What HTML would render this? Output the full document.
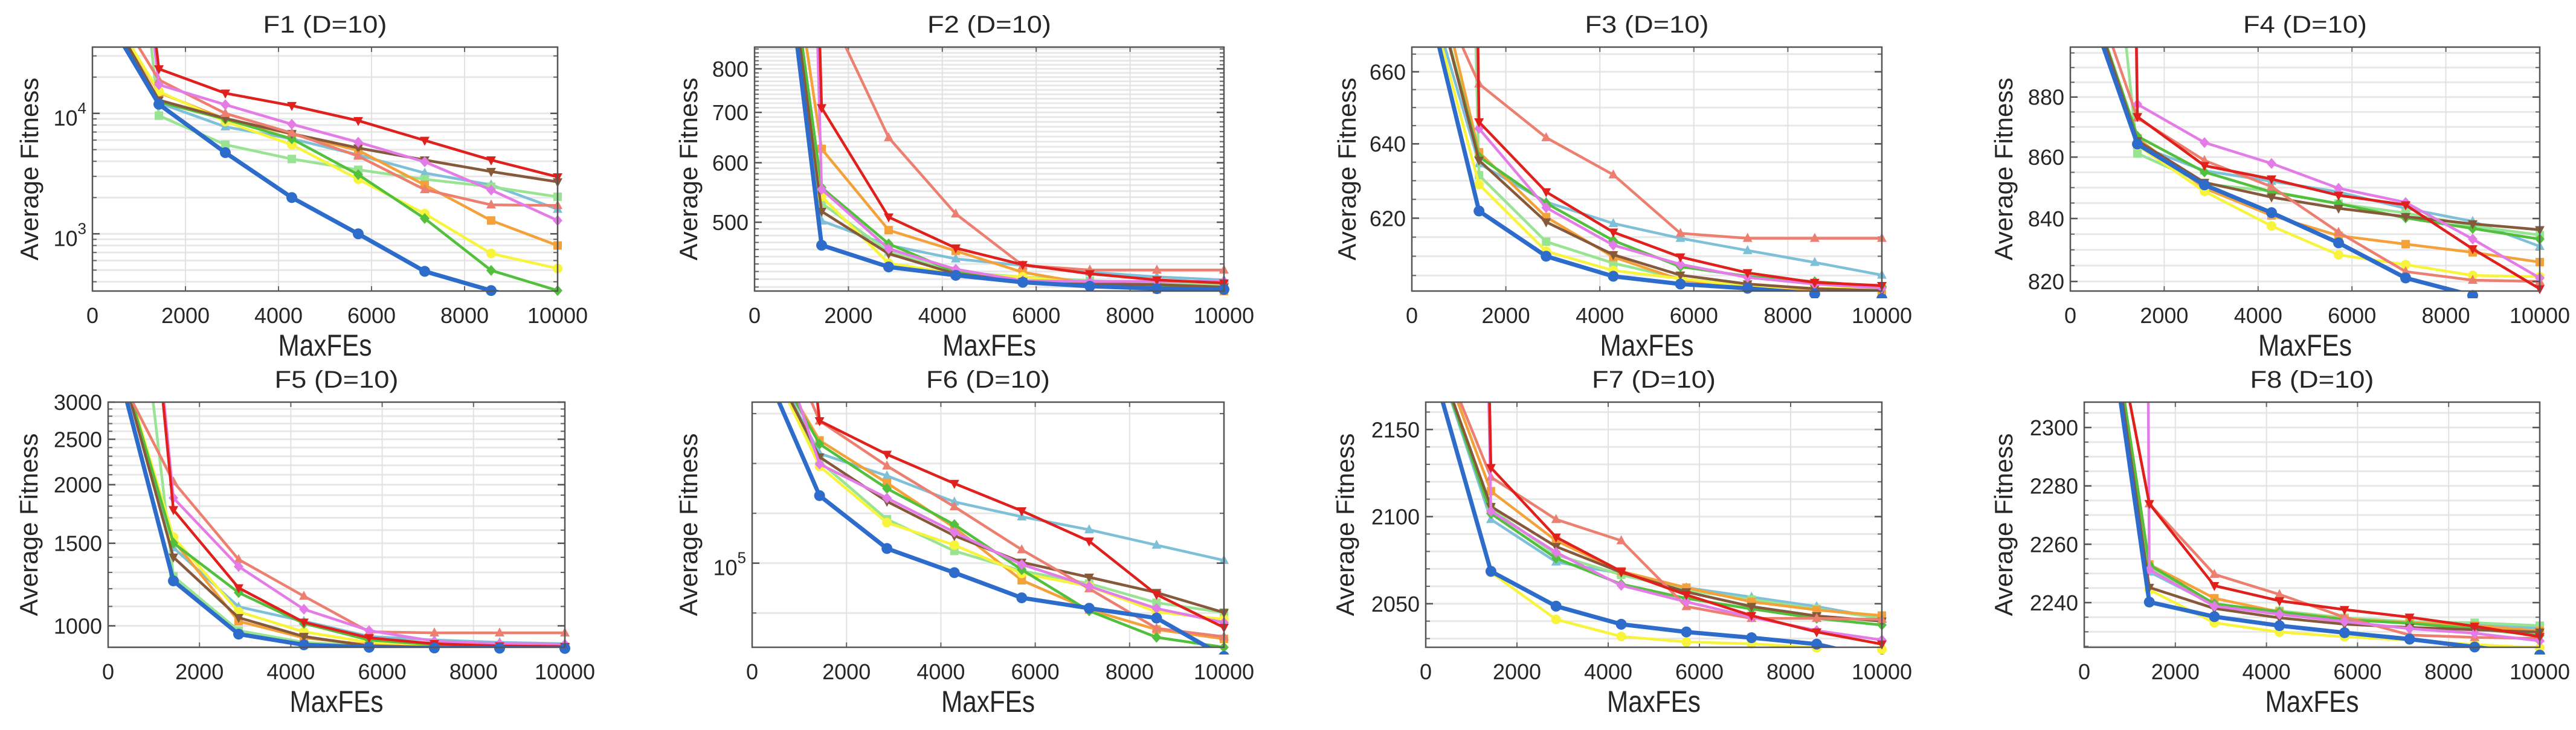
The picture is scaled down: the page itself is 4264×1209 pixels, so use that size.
<!DOCTYPE html>
<html><head><meta charset="utf-8"><title>Convergence curves F1-F8</title>
<style>html,body{margin:0;padding:0;background:#fff}svg{display:block}text{font-family:"Liberation Sans",Arial,sans-serif;fill:#262626}</style>
</head><body>
<svg id="chart" xmlns="http://www.w3.org/2000/svg" width="4264" height="1209" viewBox="0 0 4264 1209"></svg>
<script>
const xValues=[0,1429,2857,4286,5714,7143,8571,10000];
const xTicks=[0,2000,4000,6000,8000,10000];
const seriesNames=['lightblue','lightgreen','orange','yellow','green','brown','salmon','violet','red','blue'];
const seriesColors=['#7ec0d8','#98e492','#f4a13a','#f8f43c','#52c03c','#86593a','#ec7f70','#e47ce8','#e0201c','#2e6ccb'];
const seriesMarkers=['up','square','square','circle','diamond','down','up','diamond','down','circle'];
const panelTitles=['F1  (D=10)','F2  (D=10)','F3  (D=10)','F4  (D=10)','F5  (D=10)','F6  (D=10)','F7  (D=10)','F8  (D=10)'];
const f1Values=[[1.2e5,12200,7740,6150,4520,3200,2550,1600],[1e9,9570,5500,4180,3400,2840,2460,2030],[1.2e5,14900,8960,6730,4930,2550,1290,800],[1.2e5,15200,8570,5500,2840,1470,687,516],[1.2e5,12460,8960,6150,3100,1340,497,338],[1.2e5,12900,9080,6780,5160,4100,3290,2700],[1.5e5,18960,10000,6870,4420,2330,1740,1720],[1e9,17300,11800,8130,5760,3960,2310,1290],[1e9,23400,14700,11600,8700,5970,4100,2970],[1e5,11900,4720,2000,1000,488,338,250]];
const f2Values=[[2500,502,466,447,438,429,423,419],[2500,530,457,429,423,418,414,413],[2500,626,488,458,429,414,407,405],[2500,541,441,427,423,414,408,407],[2500,556,468,429,416,412,411,410],[2500,517,454,427,417,414,413,410],[3000,1000,648,513,438,432,432,432],[1e6,553,461,433,418,417,417,417],[1e6,710,508,462,439,427,419,415],[2500,466,436,425,416,411,408,407]];
const f3Values=[[700,634.6,624.3,618.6,614.7,611.5,608.4,605.1],[2000,631.5,613.8,608.2,604.2,602.3,601.5,601.2],[720,637.7,620.3,609.8,603.9,601.8,601.2,600.8],[700,629,611.3,606.3,604.2,602.2,601.7,602],[710,636.5,624,614.1,607.3,604.8,603.4,602.2],[710,635.5,619,610.4,605.1,602.8,601.6,601.1],[700,656.6,641.7,631.6,616,614.7,614.7,614.7],[5000,644.2,622.8,612.9,607.9,604.5,602.8,601.8],[5000,646,627,616.3,609.8,605.7,603.2,602.4],[700,621.9,610,604.8,602.8,601.7,600.3,599]];
const f4Values=[[930,863.9,855.5,852.1,848.6,843.3,839.1,831.1],[1100,861.2,851.3,848.8,844.8,841.8,837.6,834.7],[930,866.2,849.8,841,834.5,831.8,829.2,826.1],[930,863.9,848.8,837.6,828.4,825.3,821.9,821.5],[935,866.9,855.1,848.6,844.8,840.2,836.8,833.4],[935,865.4,851.7,846.9,843.3,840.6,838.3,836.4],[940,873,858.9,850.3,835.6,823.1,820.4,820],[5000,877.6,864.8,857.9,849.8,845.2,833.4,821.1],[5000,873.4,857.2,852.8,847.5,844.4,830.3,817.7],[930,864.3,850.9,841.9,832.2,821.1,815.6,810]];
const f5Values=[[4500,1468,1098,1023,949,933,922,916],[20000,1276,977,922,906,900,900,900],[4500,1520,1023,943,911,903,902,902],[4500,1546,1072,971,922,911,906,904],[4500,1502,1177,1012,933,911,906,903],[4500,1401,1041,949,906,900,900,900],[3800,2030,1385,1157,971,966,966,966],[50000,1874,1338,1085,977,927,916,913],[50000,1768,1205,1018,943,916,906,903],[4300,1247,960,911,900,897,896,895]];
const f6Values=[[3e5,166000,149700,132700,123900,116700,108700,101300],[3e5,159900,122500,105800,96500,91000,83300,79600],[3e5,176300,144900,117900,92400,80700,73600,70500],[3e5,156400,120600,108700,95400,89900,79800,77200],[3e5,173400,141200,119500,97000,80200,71000,67800],[3e5,163300,133000,113500,100400,93700,87300,79600],[4e5,193000,156700,129800,106400,88900,74000,71200],[4e5,158100,135100,115400,99400,89900,81100,76000],[3e6,193000,165300,144500,127300,110700,86500,74300],[2.8e5,136600,107000,95700,85200,81200,77600,65000]];
const f7Values=[[2210,2098.4,2074,2067.3,2059.2,2053.8,2048.4,2041.6],[2210,2104.5,2078.1,2066.6,2057.8,2052.4,2047,2041.6],[2215,2114.6,2086.2,2068.6,2059.2,2051.1,2046.4,2043.2],[2200,2068,2041,2031.2,2028.1,2027,2024.7,2023.8],[2210,2101.8,2076.1,2061.2,2053.1,2047,2041.6,2037.8],[2210,2105.8,2082.8,2068,2056.8,2048.4,2043,2040],[2215,2122.7,2098.4,2086.2,2048.4,2041.6,2041.6,2041],[4000,2103.1,2079.5,2060.5,2051.1,2042.3,2034.6,2029.2],[4000,2128.1,2088.2,2068.6,2055.1,2043.2,2033.8,2026.8],[2200,2068.6,2048.6,2038.2,2033.8,2030.5,2026.8,2018]];
const f8Values=[[2400,2250.5,2239.2,2237.2,2234.4,2233.1,2232.6,2231.3],[2400,2252.1,2239.2,2237.2,2234.8,2233.5,2233.1,2232.1],[2400,2253.1,2241.5,2236.8,2234.4,2233.1,2232.1,2230.3],[2400,2244.4,2233.1,2229.9,2228.3,2227.1,2225.6,2224.5],[2400,2252.9,2239.6,2236.8,2234.2,2232.9,2231.1,2228.7],[2400,2245.2,2238,2234.8,2232.6,2231.5,2230.7,2229.9],[2390,2273.9,2249.7,2242.8,2235,2228.9,2228.1,2227.7],[6000,2251.3,2238.8,2236,2233.5,2231.1,2229.5,2226.9],[2390,2273.9,2245.8,2240.6,2237.6,2235,2231.9,2228.3],[2396,2240.2,2235.2,2232.1,2229.7,2227.5,2224.8,2222]];
const f1Ticks=[1000,10000];const f2Ticks=[500,600,700,800];const f3Ticks=[620,640,660];const f4Ticks=[820,840,860,880];
const f5Ticks=[1000,1500,2000,2500,3000];const f6Ticks=[100000];const f7Ticks=[2050,2100,2150];const f8Ticks=[2240,2260,2280,2300];
const yRangesMin=[335,405,601,817,900,67800,2025,2224.7];
const yRangesMax=[35500,855,667,897,3000,210400,2165.7,2308.7];

const layout=[
 {left:153,top:78,w:770,h:404,log:true,labOff:105,exp:true,minor:'dec'},
 {left:1249,top:78,w:777,h:404,log:true,labOff:110,minor:10},
 {left:2337,top:78,w:778,h:404,log:true,labOff:108,minor:5},
 {left:3427,top:78,w:777,h:404,log:true,labOff:111,minor:5},
 {left:179,top:666,w:756,h:406,log:true,labOff:132,minor:100},
 {left:1245,top:666,w:781,h:406,log:true,labOff:106,exp:true,minor:'tenth'},
 {left:2360,top:666,w:755,h:406,log:false,labOff:134,minor:10},
 {left:3450,top:666,w:754,h:406,log:false,labOff:134,minor:5}];
const allValues=[f1Values,f2Values,f3Values,f4Values,f5Values,f6Values,f7Values,f8Values];
const allTicks=[f1Ticks,f2Ticks,f3Ticks,f4Ticks,f5Ticks,f6Ticks,f7Ticks,f8Ticks];

const NS='http://www.w3.org/2000/svg';
const svg=document.getElementById('chart');
function mk(tag,attrs,parent){const e=document.createElementNS(NS,tag);for(const k in attrs)e.setAttribute(k,attrs[k]);(parent||svg).appendChild(e);return e;}
const defs=mk('defs',{});

layout.forEach((L,pi)=>{
 const ymin=yRangesMin[pi],ymax=yRangesMax[pi];
 const xs=v=>L.left+v/10000*L.w;
 const ys=v=>L.log?L.top+(Math.log(ymax)-Math.log(v))/(Math.log(ymax)-Math.log(ymin))*L.h:L.top+(ymax-v)/(ymax-ymin)*L.h;
 const g=mk('g',{});
 
 
 // minor/major horizontal grid
 const gv=[];
 if(L.minor==='dec'){for(let d=2;d<=4;d++)for(let m=1;m<10;m++){const v=m*Math.pow(10,d);if(v>ymin&&v<ymax)gv.push(v);}}
 else if(L.minor==='tenth'){for(let k=-2;k<=4;k++){const v=Math.pow(10,5+k*0.1);if(v>ymin&&v<ymax)gv.push(v);}}
 else{for(let v=Math.ceil(ymin/L.minor)*L.minor;v<ymax;v+=L.minor)gv.push(v);}
 const grid=mk('g',{},g);
 
 
 gv.forEach(v=>{const y=ys(v);mk('line',{x1:L.left,x2:L.left+L.w,y1:y,y2:y,stroke:'#e8e8e8','stroke-width':3},grid);
   mk('line',{x1:L.left,x2:L.left+7,y1:y,y2:y,stroke:'#666','stroke-width':2},grid);
   mk('line',{x1:L.left+L.w-7,x2:L.left+L.w,y1:y,y2:y,stroke:'#666','stroke-width':2},grid);});
 xTicks.forEach(t=>{if(t>0&&t<10000){const x=xs(t);mk('line',{x1:x,x2:x,y1:L.top,y2:L.top+L.h,stroke:'#e2e2e2','stroke-width':2},grid);
   mk('line',{x1:x,x2:x,y1:L.top,y2:L.top+8,stroke:'#666','stroke-width':2},grid);
   mk('line',{x1:x,x2:x,y1:L.top+L.h-8,y2:L.top+L.h,stroke:'#666','stroke-width':2},grid);}});
 // clip
 const cp=mk('clipPath',{id:'clip'+pi},defs);
 mk('rect',{x:L.left,y:L.top,width:L.w,height:L.h},cp);
 const cpm=mk('clipPath',{id:'clipm'+pi},defs);
 mk('rect',{x:L.left-12,y:L.top,width:L.w+24,height:L.h+12},cpm);
 const vals=allValues[pi];
 seriesNames.forEach((nm,si)=>{
  const col=seriesColors[si];const sw=nm==='blue'?7:4.5;
  const pts=vals[si].map((v,i)=>[xs(xValues[i]),ys(v)]);
  const line=mk('polyline',{points:pts.map(p=>p[0].toFixed(1)+','+p[1].toFixed(1)).join(' '),fill:'none',stroke:col,'stroke-width':sw,'stroke-linejoin':'round','clip-path':'url(#clip'+pi+')'},g);
  
  
  const mg=mk('g',{'clip-path':'url(#clipm'+pi+')',fill:col},g);
  
  
  pts.forEach((p,i)=>{if(i===0)return;const [x,y]=p;if(y<L.top-2)return;const r=nm==='blue'?9:8;const mt=seriesMarkers[si];let m;
   if(mt==='circle')m=mk('circle',{cx:x,cy:y,r:r},mg);
   else if(mt==='square')m=mk('rect',{x:x-r+1,y:y-r+1,width:2*r-2,height:2*r-2},mg);
   else if(mt==='diamond')m=mk('polygon',{points:`${x},${y-r-1} ${x+r},${y} ${x},${y+r+1} ${x-r},${y}`},mg);
   else if(mt==='up')m=mk('polygon',{points:`${x},${y-r-1} ${x+r},${y+r-2} ${x-r},${y+r-2}`},mg);
   else m=mk('polygon',{points:`${x},${y+r+1} ${x+r},${y-r+2} ${x-r},${y-r+2}`},mg);
   
   });
 });
 // axes box
 const box=mk('rect',{x:L.left,y:L.top,width:L.w,height:L.h,fill:'none',stroke:'#555','stroke-width':2.5},g);
 
 
 // x tick labels
 xTicks.forEach(t=>{const tx=mk('text',{x:xs(t),y:L.top+L.h+53,'font-size':36,'text-anchor':'middle'},g);tx.textContent=t;
   
   });
 // y tick labels
 allTicks[pi].forEach(t=>{const y=ys(t);
   mk('line',{x1:L.left,x2:L.left+12,y1:y,y2:y,stroke:'#555','stroke-width':2.5},g);
   mk('line',{x1:L.left+L.w-12,x2:L.left+L.w,y1:y,y2:y,stroke:'#555','stroke-width':2.5},g);
   const tx=mk('text',{x:L.left-10,y:y+13,'font-size':36,'text-anchor':'end'},g);
   
   
   if(L.exp){const e=Math.round(Math.log10(t));tx.setAttribute('y',y+20);
     const a=mk('tspan',{},tx);a.textContent='10';const b=mk('tspan',{'font-size':26,dy:-20},tx);b.textContent=e;}
   else tx.textContent=t;});
 // title
 const tt=mk('text',{x:L.left+L.w/2,y:L.top-24,'font-size':40,'text-anchor':'middle',textLength:205,lengthAdjust:'spacingAndGlyphs'},g);
 tt.textContent=panelTitles[pi];
 
 
 // x label
 const xl=mk('text',{x:L.left+L.w/2,y:L.top+L.h+107,'font-size':50,'text-anchor':'middle',textLength:155,lengthAdjust:'spacingAndGlyphs'},g);
 xl.textContent='MaxFEs';
 
 
 // y label
 const cx=L.left-L.labOff+15,cy=L.top+L.h/2;
 const yl=mk('text',{x:cx,y:cy,'font-size':42,'text-anchor':'middle',transform:`rotate(-90 ${cx} ${cy})`},g);
 yl.textContent='Average Fitness';
 
 
});
</script>
</body></html>
